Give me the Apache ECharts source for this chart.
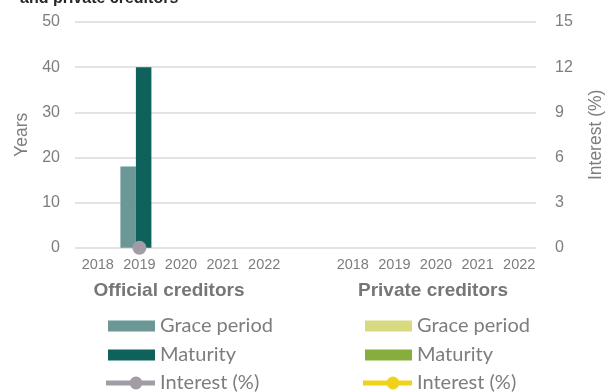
<!DOCTYPE html>
<html>
<head>
<meta charset="utf-8">
<script src="https://cdn.jsdelivr.net/npm/echarts@6/dist/echarts.min.js"></script>
<style>html,body{margin:0;padding:0;background:#fff}#c{width:613px;height:392px}</style>
</head>
<body>
<div id="c"></div>
<script>
var years = ['2018', '2019', '2020', '2021', '2022'];
var officialGrace = [null, 18, null, null, null];
var officialMaturity = [null, 40, null, null, null];
var officialInterest = [null, 0, null, null, null];
var privateGrace = [null, null, null, null, null];
var privateMaturity = [null, null, null, null, null];
var privateInterest = [null, null, null, null, null];
var yearTicks = [0, 10, 20, 30, 40, 50];
var interestTicks = [0, 3, 6, 9, 12, 15];
var legendLabels = {
  oGrace: 'Grace period', oMat: 'Maturity', oInt: 'Interest (%)',
  pGrace: 'Grace period', pMat: 'Maturity', pInt: 'Interest (%)'
};

var gray = '#7d7d7d';
var top0 = 22, bottom0 = 144.3;
var chart = echarts.init(document.getElementById('c'));

function catAxis(gi) {
  return {
    gridIndex: gi, type: 'category', data: years,
    axisLine: {show: false}, axisTick: {show: false},
    axisLabel: {color: gray, fontSize: 14.5, fontFamily: 'Liberation Sans', margin: 10, interval: 0},
    splitLine: {show: false}
  };
}
function hiddenY(gi, max) {
  return {gridIndex: gi, type: 'value', min: 0, max: max, show: false, splitLine: {show: false}};
}
var barBase = {type: 'bar', barGap: 0, barCategoryGap: 0, silent: true};
var lineIcon = 'path://M0,4 L49,4 L49,9 L0,9 Z M23.5,6.5 a6.5,6.5 0 1,1 13,0 a6.5,6.5 0 1,1 -13,0 Z';
var legendText = {color: gray, fontSize: 20, fontFamily: 'Lato', lineHeight: 20};

var legendRows = [];
function legendCol(left, names) {
  var centers = [326, 355, 383];
  names.forEach(function (n, i) {
    var isLine = i === 2;
    legendRows.push({
      left: isLine ? left - 2 : left, top: centers[i] - 10, orient: 'horizontal', padding: 0,
      itemWidth: isLine ? 49 : 47, itemHeight: isLine ? 13 : 11, selectedMode: false,
      data: [{name: n, icon: isLine ? lineIcon : 'rect'}],
      formatter: function (k) { return legendLabels[k]; },
      textStyle: legendText
    });
  });
}
legendCol(108, ['oGrace', 'oMat', 'oInt']);
legendCol(365, ['pGrace', 'pMat', 'pInt']);

chart.setOption({
  animation: false,
  grid: [
    {left: 75, right: 72, top: top0, bottom: bottom0},
    {left: 77, width: 208, top: top0, bottom: bottom0},
    {left: 332, width: 208, top: top0, bottom: bottom0}
  ],
  xAxis: [
    {gridIndex: 0, type: 'value', min: 0, max: 1, show: false},
    catAxis(1),
    catAxis(2)
  ],
  yAxis: [
    {
      gridIndex: 0, type: 'value', position: 'left',
      min: yearTicks[0], max: yearTicks[yearTicks.length - 1], interval: yearTicks[1] - yearTicks[0],
      axisLine: {show: false}, axisTick: {show: false},
      axisLabel: {color: gray, fontSize: 16, fontFamily: 'Liberation Sans', margin: 15},
      splitLine: {lineStyle: {color: '#dadada', width: 1.5}},
      name: 'Years', nameLocation: 'middle', nameGap: 44, nameRotate: 90,
      nameTextStyle: {color: gray, fontSize: 17.5, fontFamily: 'Liberation Sans'}
    },
    {
      gridIndex: 0, type: 'value', position: 'right',
      min: interestTicks[0], max: interestTicks[interestTicks.length - 1], interval: interestTicks[1] - interestTicks[0],
      axisLine: {show: false}, axisTick: {show: false},
      axisLabel: {color: gray, fontSize: 16, fontFamily: 'Liberation Sans', margin: 19},
      splitLine: {show: false},
      name: 'Interest (%)', nameLocation: 'middle', nameGap: 51, nameRotate: 90,
      nameTextStyle: {color: gray, fontSize: 17.5, fontFamily: 'Liberation Sans'}
    },
    hiddenY(1, 50), hiddenY(1, 15),
    hiddenY(2, 50), hiddenY(2, 15)
  ],
  legend: legendRows,
  graphic: [
    {type: 'text', left: 20, top: -9, style: {text: 'and private creditors', fill: '#262626', font: 'bold 16px "Liberation Sans"'}},
    {type: 'text', x: 169, y: 291, style: {text: 'Official creditors', fill: '#767676', font: 'bold 19px "Liberation Sans"', textAlign: 'center', textVerticalAlign: 'middle'}},
    {type: 'text', x: 433, y: 291, style: {text: 'Private creditors', fill: '#767676', font: 'bold 19px "Liberation Sans"', textAlign: 'center', textVerticalAlign: 'middle'}}
  ],
  series: [
    Object.assign({}, barBase, {name: 'oGrace', xAxisIndex: 1, yAxisIndex: 2, barWidth: 15.5, data: officialGrace, itemStyle: {color: '#6b9897'}}),
    Object.assign({}, barBase, {name: 'oMat', xAxisIndex: 1, yAxisIndex: 2, barWidth: 15.5, data: officialMaturity, itemStyle: {color: '#0f625c'}}),
    Object.assign({}, barBase, {name: 'oPad', xAxisIndex: 1, yAxisIndex: 2, barWidth: 7, data: [null, null, null, null, null], itemStyle: {color: 'transparent'}}),
    {name: 'oInt', type: 'line', xAxisIndex: 1, yAxisIndex: 3, data: officialInterest, symbol: 'circle', symbolSize: 14,
      itemStyle: {color: '#a29ca7'}, lineStyle: {color: '#a29ca7', width: 4}, z: 5},
    Object.assign({}, barBase, {name: 'pGrace', xAxisIndex: 2, yAxisIndex: 4, barWidth: 15.5, data: privateGrace, itemStyle: {color: '#d8da80'}}),
    Object.assign({}, barBase, {name: 'pMat', xAxisIndex: 2, yAxisIndex: 4, barWidth: 15.5, data: privateMaturity, itemStyle: {color: '#86ae3c'}}),
    Object.assign({}, barBase, {name: 'pPad', xAxisIndex: 2, yAxisIndex: 4, barWidth: 7, data: [null, null, null, null, null], itemStyle: {color: 'transparent'}}),
    {name: 'pInt', type: 'line', xAxisIndex: 2, yAxisIndex: 5, data: privateInterest, symbol: 'circle', symbolSize: 14,
      itemStyle: {color: '#f0d219'}, lineStyle: {color: '#f0d219', width: 4}, z: 5}
  ]
});
</script>
</body>
</html>
